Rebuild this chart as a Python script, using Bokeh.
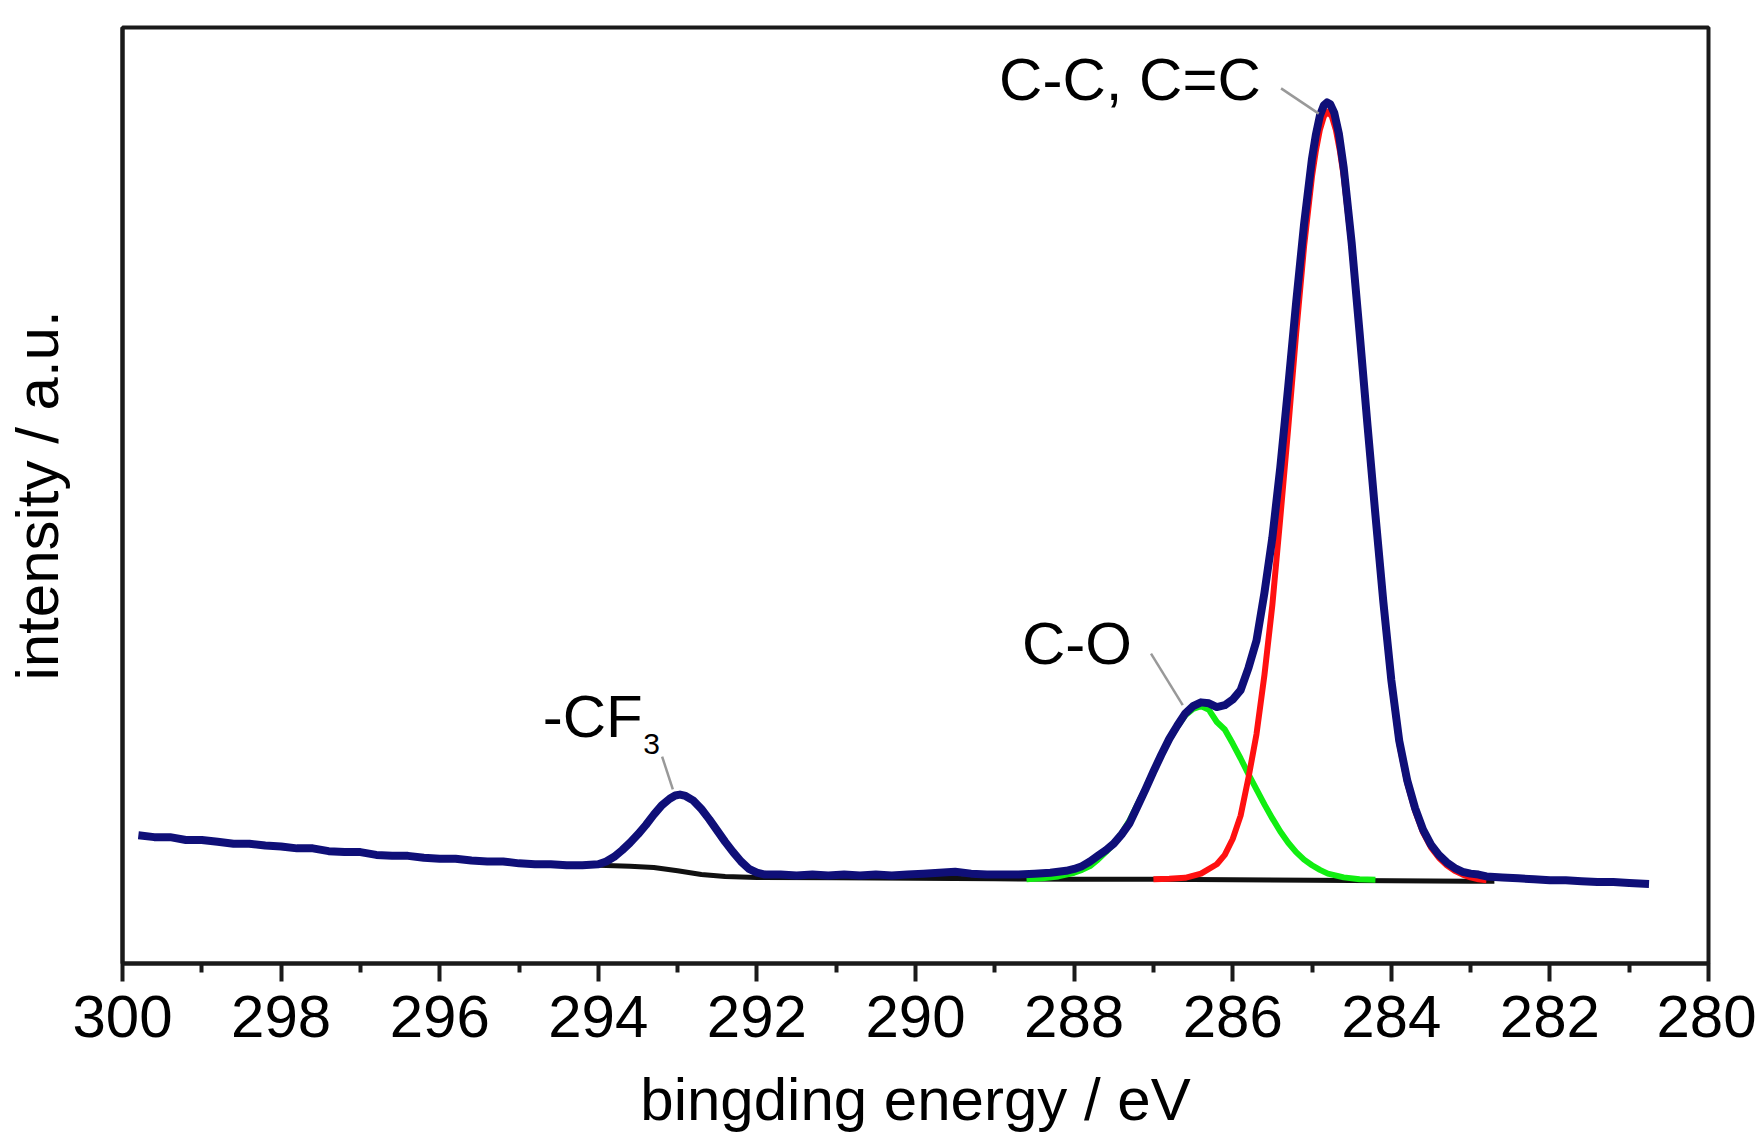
from bokeh.plotting import figure
from bokeh.models import Range1d, FixedTicker, ColumnDataSource
from bokeh.core.properties import value
from bokeh.embed import file_html
from bokeh.resources import INLINE

FONT = "Liberation Sans"
FS = "60px"

# ---- data (binding energy in eV, intensity in a.u.) ----
blue_x = [299.80, 299.60, 299.40, 299.20, 299.00, 298.80, 298.60, 298.40, 298.20, 298.00,
          297.80, 297.60, 297.40, 297.20, 297.00, 296.80, 296.60, 296.40, 296.20, 296.00,
          295.80, 295.60, 295.40, 295.20, 295.00, 294.80, 294.60, 294.40, 294.20, 294.00,
          293.90, 293.80, 293.70, 293.60, 293.50, 293.40, 293.30, 293.20, 293.10, 293.03,
          292.97, 292.90, 292.80, 292.70, 292.60, 292.50, 292.40, 292.30, 292.20, 292.10,
          292.00, 291.90, 291.70, 291.50, 291.30, 291.10, 290.90, 290.70, 290.50, 290.30, 290.10,
          289.90, 289.70, 289.50, 289.30, 289.10, 288.90, 288.70, 288.50, 288.30, 288.10,
          288.00, 287.90, 287.80, 287.70, 287.60, 287.50, 287.40, 287.30, 287.20, 287.10,
          287.00, 286.90, 286.80, 286.70, 286.60, 286.50, 286.40, 286.30, 286.20, 286.10,
          286.00, 285.90, 285.80, 285.70, 285.60, 285.50, 285.40, 285.30, 285.20, 285.10,
          285.00, 284.95, 284.90, 284.85, 284.81, 284.77, 284.72, 284.66, 284.60, 284.50,
          284.40, 284.30, 284.20, 284.10,
          284.00, 283.90, 283.80, 283.70, 283.60, 283.50, 283.40, 283.30, 283.20, 283.10,
          283.00, 282.90, 282.80, 282.60, 282.40, 282.20, 282.00, 281.80, 281.60, 281.40,
          281.20, 281.00, 280.75]
blue_y = [13.7, 13.5, 13.5, 13.2, 13.2, 13.0, 12.8, 12.8, 12.6, 12.5,
          12.3, 12.3, 12.0, 11.9, 11.9, 11.6, 11.5, 11.5, 11.3, 11.2,
          11.2, 11.0, 10.9, 10.9, 10.7, 10.6, 10.6, 10.5, 10.5, 10.6,
          10.9, 11.4, 12.1, 12.9, 13.8, 14.8, 15.9, 16.9, 17.6, 17.95,
          18.05, 17.9, 17.4, 16.5, 15.4, 14.2, 13.0, 11.9, 10.9, 10.1,
          9.7, 9.5, 9.5, 9.4, 9.5, 9.4, 9.5, 9.4, 9.5, 9.4, 9.5,
          9.6, 9.7, 9.8, 9.6, 9.5, 9.5, 9.5, 9.6, 9.7, 9.9,
          10.1, 10.4, 10.9, 11.5, 12.1, 12.8, 13.8, 15.0, 16.8, 18.6,
          20.5, 22.3, 24.0, 25.4, 26.7, 27.5, 27.9, 27.8, 27.4, 27.6,
          28.2, 29.2, 31.6, 34.5, 39.6, 45.5, 53.0, 61.6, 70.6, 79.0,
          86.0, 88.6, 90.6, 91.7, 92.0, 91.8, 90.9, 88.6, 85.0, 77.0,
          67.4, 57.5, 47.9, 38.6,
          30.3, 23.8, 19.6, 16.6, 14.3, 12.7, 11.6, 10.8, 10.2, 9.8,
          9.6, 9.5, 9.3, 9.2, 9.1, 9.0, 8.9, 8.9, 8.8, 8.7,
          8.7, 8.6, 8.5]

red_x = [287.00, 286.80, 286.60, 286.40, 286.20, 286.10, 286.00, 285.90, 285.80, 285.70,
         285.60, 285.50, 285.40, 285.30, 285.20, 285.10, 285.00, 284.95, 284.90, 284.85,
         284.80, 284.75, 284.70, 284.65,
         284.60, 284.50, 284.40, 284.30, 284.20, 284.10, 284.00, 283.90, 283.80, 283.70,
         283.60, 283.50, 283.40, 283.30, 283.20, 283.10, 283.00, 282.90, 282.80]
red_y = [9.0, 9.05, 9.15, 9.6, 10.6, 11.6, 13.3, 15.8, 19.9, 24.5,
         30.8, 38.3, 47.6, 57.2, 67.3, 76.6, 84.1, 86.9, 89.1, 90.5,
         91.0, 90.5, 89.1, 86.9,
         84.1, 76.6, 67.3, 57.2, 47.6, 38.3, 30.0, 23.5, 19.3, 16.3,
         14.0, 12.4, 11.3, 10.5, 9.9, 9.5, 9.2, 9.0, 8.9]

green_x = [288.60, 288.40, 288.20, 288.00, 287.90, 287.80, 287.70, 287.60, 287.50, 287.40,
           287.30, 287.20, 287.10, 287.00, 286.90, 286.80, 286.70, 286.60, 286.50, 286.40,
           286.30, 286.20, 286.10, 286.00, 285.90, 285.80, 285.70, 285.60, 285.50, 285.40,
           285.30, 285.20, 285.10, 285.00, 284.90, 284.80, 284.60, 284.40, 284.20]
green_y = [9.0, 9.1, 9.3, 9.7, 10.0, 10.4, 11.1, 11.9, 12.8, 13.9,
           15.3, 17.0, 18.7, 20.5, 22.3, 23.9, 25.3, 26.5, 27.2, 27.5,
           27.1, 25.8, 25.0, 23.5, 21.9, 20.2, 18.6, 17.0, 15.5, 14.1,
           12.9, 11.9, 11.1, 10.5, 10.0, 9.6, 9.2, 9.0, 8.95]

base_x = [294.60, 294.00, 293.60, 293.30, 293.00, 292.70, 292.40, 292.00, 291.00, 290.00,
          289.00, 288.00, 287.00, 286.00, 285.00, 284.00, 283.00, 282.70]
base_y = [10.5, 10.5, 10.4, 10.25, 9.9, 9.5, 9.3, 9.2, 9.15, 9.1,
          9.05, 9.0, 9.0, 8.95, 8.9, 8.85, 8.8, 8.8]

x_ticks = [300, 298, 296, 294, 292, 290, 288, 286, 284, 282, 280]
x_minor = [299, 297, 295, 293, 291, 289, 287, 285, 283, 281]

x_title = "bingding energy / eV"
y_title = "intensity / a.u."

# peak annotations
ann_text = ["C-C, C=C", "C-O", "-CF"]
ann_x = [285.646, 287.27, 294.70]
ann_y = [94.44, 34.19, 26.4]
ann_align = ["right", "right", "left"]
sub_text = ["3"]
sub_x = [293.434]
sub_y = [23.5]
# leader lines: (label end) -> (peak)
lead_x0 = [285.39, 287.03, 293.195]
lead_y0 = [93.5, 33.1, 22.1]
lead_x1 = [284.915, 286.63, 293.06]
lead_y1 = [90.8, 27.6, 18.6]

p = figure(width=1756, height=1139, output_backend="svg", toolbar_location=None,
           x_range=Range1d(300, 280), y_range=Range1d(0, 100),
           min_border_left=121, min_border_right=48, min_border_top=27, min_border_bottom=176)
p.background_fill_color = "white"
p.border_fill_color = "white"
p.xgrid.grid_line_color = None
p.ygrid.grid_line_color = None
p.outline_line_color = "#1a1a1a"
p.outline_line_width = 4

xa = p.xaxis[0]
xa.ticker = FixedTicker(ticks=x_ticks, minor_ticks=x_minor)
xa.axis_line_width = 4
xa.axis_line_color = "#1a1a1a"
xa.major_tick_line_width = 4
xa.minor_tick_line_width = 4
xa.major_tick_line_color = "#1a1a1a"
xa.minor_tick_line_color = "#1a1a1a"
xa.major_tick_in = 0
xa.major_tick_out = 18
xa.minor_tick_in = 0
xa.minor_tick_out = 9
xa.major_label_text_font = FONT
xa.major_label_text_font_size = FS
xa.major_label_text_color = "black"
xa.major_label_standoff = 14
xa.axis_label = x_title
xa.axis_label_text_font = FONT
xa.axis_label_text_font_size = FS
xa.axis_label_text_font_style = "normal"
xa.axis_label_text_color = "black"
xa.axis_label_standoff = 26

ya = p.yaxis[0]
ya.ticker = FixedTicker(ticks=[])
ya.axis_line_width = 4
ya.axis_line_color = "#1a1a1a"
ya.major_tick_out = 0
ya.major_tick_in = 0
ya.minor_tick_out = 0
ya.minor_tick_in = 0
ya.major_label_standoff = 0
ya.axis_label = y_title
ya.axis_label_text_font = FONT
ya.axis_label_text_font_size = FS
ya.axis_label_text_font_style = "normal"
ya.axis_label_text_color = "black"
ya.axis_label_standoff = 52

p.line(base_x, base_y, line_color="#111111", line_width=5, line_join="round")
p.line(green_x, green_y, line_color="#11ee11", line_width=6, line_join="round")
p.line(red_x, red_y, line_color="#ff1010", line_width=6, line_join="round")
p.line(blue_x, blue_y, line_color="#0f0f78", line_width=8, line_join="round")

p.segment(x0=lead_x0, y0=lead_y0, x1=lead_x1, y1=lead_y1, line_color="#999999", line_width=2.5)

src = ColumnDataSource(dict(x=ann_x, y=ann_y, t=ann_text, a=ann_align))
p.text(x="x", y="y", text="t", text_align="a", text_baseline="alphabetic", source=src,
       text_font=value(FONT), text_font_size=FS, text_color="black")
p.text(x=sub_x, y=sub_y, text=sub_text, text_align="left", text_baseline="alphabetic",
       text_font=value(FONT), text_font_size="30px", text_color="black")

open("out.html", "w").write(file_html(p, INLINE))
